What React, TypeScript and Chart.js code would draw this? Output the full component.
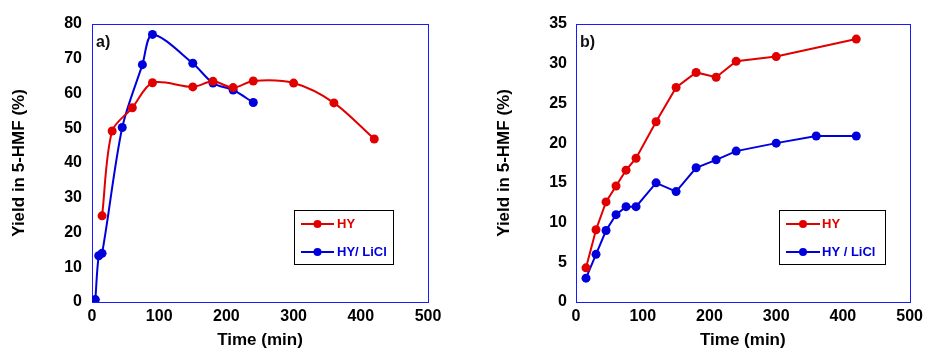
import React, { useEffect, useRef } from "react";
import { Chart, registerables } from "chart.js";

Chart.register(...registerables);

// ---------- Data ----------
// Panel a)
const timeA_HY = [15, 30, 60, 90, 150, 180, 210, 240, 300, 360, 420];
const yieldA_HY = [24.8, 49.2, 55.9, 63.1, 61.9, 63.5, 61.7, 63.6, 63.0, 57.3, 46.9];
const timeA_LiCl = [5, 10, 15, 45, 75, 90, 150, 180, 210, 240];
const yieldA_LiCl = [0.7, 13.3, 14.0, 50.2, 68.3, 77.0, 68.7, 63.0, 61.0, 57.4];

// Panel b)
const timeB_HY = [15, 30, 45, 60, 75, 90, 120, 150, 180, 210, 240, 300, 420];
const yieldB_HY = [4.3, 9.1, 12.6, 14.6, 16.6, 18.1, 22.7, 27.0, 28.9, 28.3, 30.3, 30.9, 33.1];
const timeB_LiCl = [15, 30, 45, 60, 75, 90, 120, 150, 180, 210, 240, 300, 360, 420];
const yieldB_LiCl = [3.0, 6.0, 9.0, 11.0, 12.0, 12.0, 15.0, 13.9, 16.9, 17.9, 19.0, 20.0, 20.9, 20.9];

const xTicksMax = 500;
const xStep = 100;
const yMaxA = 80;
const yStepA = 10;
const yMaxB = 35;
const yStepB = 5;

const labelHY = "HY";
const labelLiClA = "HY/ LiCl";
const labelLiClB = "HY / LiCl";
const xTitle = "Time (min)";
const yTitle = "Yield in 5-HMF (%)";

const RED = "#e00000";
const BLUE = "#0000dd";
const FRAME = "#1a1aff";
const FONT = "'Liberation Sans', Arial, Helvetica, sans-serif";

type Series = { label: string; x: number[]; y: number[]; color: string };
type PanelCfg = {
  panel: string;
  series: Series[];
  yMax: number;
  yStep: number;
  tension: number;
  yAxisWidth: number;
  padRight: number;
  titlePad: number;
  tickPad: number;
  legend: { x: number; y: number; w: number; h: number; lineX0: number; lineX1: number; textX: number; rows: number[] };
};

function makeDecorPlugin(cfg: PanelCfg) {
  return {
    id: "decor" + cfg.panel,
    beforeDatasetsDraw(chart: any) {
      const { ctx, chartArea } = chart;
      ctx.save();
      ctx.strokeStyle = FRAME;
      ctx.lineWidth = 1;
      const l = Math.round(chartArea.left) + 0.5;
      const t = Math.round(chartArea.top) + 0.5;
      const r = Math.round(chartArea.right) + 0.5;
      const b = Math.round(chartArea.bottom) + 0.5;
      ctx.strokeRect(l, t, r - l, b - t);
      // panel label
      ctx.fillStyle = "#111";
      ctx.font = `bold 16px ${FONT}`;
      ctx.textBaseline = "middle";
      ctx.textAlign = "left";
      ctx.fillText(cfg.panel, chartArea.left + 4, 43);
      ctx.restore();
    },
    afterDraw(chart: any) {
      const { ctx } = chart;
      const lg = cfg.legend;
      ctx.save();
      ctx.fillStyle = "#fff";
      ctx.fillRect(lg.x, lg.y, lg.w, lg.h);
      ctx.strokeStyle = "#000";
      ctx.lineWidth = 1;
      ctx.strokeRect(lg.x + 0.5, lg.y + 0.5, lg.w, lg.h);
      chart.data.datasets.forEach((ds: any, i: number) => {
        const yy = lg.rows[i];
        ctx.strokeStyle = ds.borderColor;
        ctx.lineWidth = 2;
        ctx.beginPath();
        ctx.moveTo(lg.lineX0, yy);
        ctx.lineTo(lg.lineX1, yy);
        ctx.stroke();
        ctx.fillStyle = ds.borderColor;
        ctx.beginPath();
        ctx.arc((lg.lineX0 + lg.lineX1) / 2, yy, 4, 0, Math.PI * 2);
        ctx.fill();
        ctx.font = `bold 13px ${FONT}`;
        ctx.textBaseline = "middle";
        ctx.textAlign = "left";
        ctx.fillText(ds.label, lg.textX, yy + 0.5);
      });
      ctx.restore();
    },
  };
}

function Panel({ cfg }: { cfg: PanelCfg }) {
  const ref = useRef<HTMLCanvasElement>(null);
  useEffect(() => {
    const tickFont = { family: FONT, size: 16, weight: "bold" as const };
    const titleFont = { family: FONT, size: 17, weight: "bold" as const };
    const chart = new Chart(ref.current as HTMLCanvasElement, {
      type: "line",
      data: {
        datasets: cfg.series.map((s) => ({
          label: s.label,
          data: s.x.map((x, i) => ({ x, y: s.y[i] })),
          borderColor: s.color,
          backgroundColor: s.color,
          pointBackgroundColor: s.color,
          pointBorderColor: s.color,
          pointRadius: 4.5,
          pointBorderWidth: 0,
          borderWidth: 2,
          tension: cfg.tension,
          fill: false,
        })),
      },
      options: {
        responsive: false,
        animation: false,
        devicePixelRatio: 1,
        layout: { padding: { left: 0, right: cfg.padRight, top: 24, bottom: 0 } },
        plugins: { legend: { display: false }, tooltip: { enabled: false } },
        scales: {
          x: {
            type: "linear",
            min: 0,
            max: xTicksMax,
            ticks: { stepSize: xStep, padding: 5, color: "#000", font: tickFont, maxRotation: 0 },
            grid: { display: false, drawTicks: false },
            border: { display: false },
            title: { display: true, text: xTitle, color: "#000", font: titleFont, padding: { top: 0, bottom: 0 } },
            afterFit: (s: any) => {
              s.height = 49;
            },
          },
          y: {
            type: "linear",
            min: 0,
            max: cfg.yMax,
            ticks: { stepSize: cfg.yStep, padding: cfg.tickPad, color: "#000", font: tickFont },
            grid: { display: false, drawTicks: false },
            border: { display: false },
            title: { display: true, text: yTitle, color: "#000", font: titleFont, padding: { top: cfg.titlePad, bottom: 0 } },
            afterFit: (s: any) => {
              s.width = cfg.yAxisWidth;
            },
          },
        },
      } as any,
      plugins: [makeDecorPlugin(cfg)],
    });
    return () => chart.destroy();
  }, [cfg]);
  return <canvas ref={ref} width={464} height={351} style={{ display: "block", width: 464, height: 351 }} />;
}

const cfgA: PanelCfg = {
  panel: "a)",
  series: [
    { label: labelHY, x: timeA_HY, y: yieldA_HY, color: RED },
    { label: labelLiClA, x: timeA_LiCl, y: yieldA_LiCl, color: BLUE },
  ],
  yMax: yMaxA,
  yStep: yStepA,
  tension: 0.3,
  yAxisWidth: 92,
  padRight: 36,
  titlePad: 9,
  tickPad: 10,
  legend: { x: 294, y: 210, w: 99, h: 54, lineX0: 301, lineX1: 334, textX: 337, rows: [224, 252] },
};

const cfgB: PanelCfg = {
  panel: "b)",
  series: [
    { label: labelHY, x: timeB_HY, y: yieldB_HY, color: RED },
    { label: labelLiClB, x: timeB_LiCl, y: yieldB_LiCl, color: BLUE },
  ],
  yMax: yMaxB,
  yStep: yStepB,
  tension: 0,
  yAxisWidth: 112,
  padRight: 14,
  titlePad: 30,
  tickPad: 9,
  legend: { x: 315, y: 210, w: 106, h: 54, lineX0: 322, lineX1: 356, textX: 358, rows: [224, 252] },
};

export default function App() {
  return (
    <div style={{ position: "absolute", left: 0, top: 0, width: 928, height: 351, display: "flex", background: "#fff" }}>
      <Panel cfg={cfgA} />
      <Panel cfg={cfgB} />
    </div>
  );
}
